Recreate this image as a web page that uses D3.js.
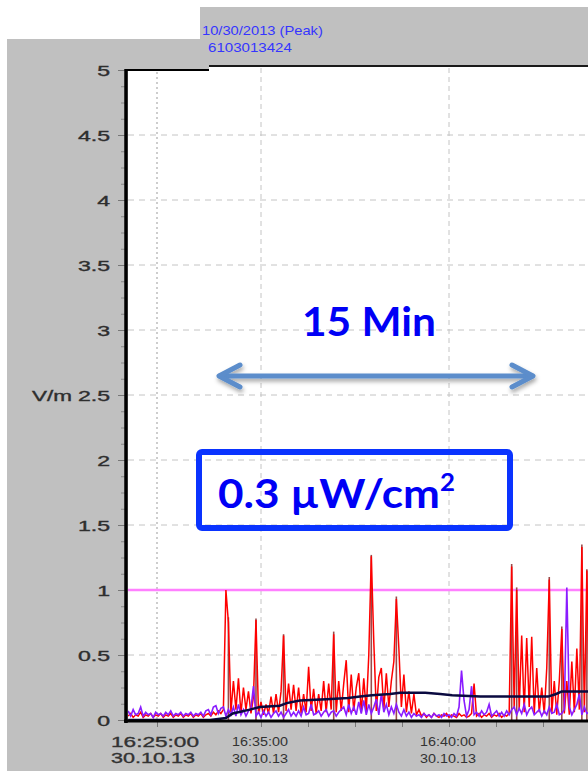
<!DOCTYPE html>
<html><head><meta charset="utf-8">
<script src="https://cdn.jsdelivr.net/npm/d3@7"></script>
<style>body{margin:0;background:#fff;overflow:hidden}svg{display:block}</style>
</head><body>
<svg id="c" width="588" height="771"></svg>
<script>
// ---------------- data ----------------
const headerLines = ["10/30/2013 (Peak)", "6103013424"];
const yTicks = [0, 0.5, 1, 1.5, 2, 2.5, 3, 3.5, 4, 4.5, 5];
const yUnit = "V/m";
const xTickTimes = ["16:35:00","16:36:15","16:37:30","16:38:45","16:40:00","16:41:15","16:42:30"];
const xLabelTimes = ["16:35:00","16:40:00"];
const leftTickTime = "16:25:00";
const dateLabel = "30.10.13";
const startTime = "16:31:28";
const stepSeconds = 4;
const limitValue = 1.0;
const spanLabel = "15 Min";
const boxLabel = "0.3 \u00b5W/cm";
const boxLabelSup = "2";

const redValues = [
 0.03,0.05,0.02,0.04,0.03,0.06,0.02,0.04,0.03,0.05,0.02,0.04,0.03,0.05,0.02,0.04,0.03,0.05,0.02,0.04,
 0.03,0.05,0.02,0.04,0.03,0.05,0.02,0.04,0.03,0.05,0.02,0.04,0.05,0.03,0.06,0.04,0.07,0.05,0.08,1.0,
 0.75,0.06,0.3,0.08,0.32,0.05,0.25,0.08,0.22,0.05,0.18,0.77,0.05,0.14,0.04,0.12,0.05,0.18,0.05,0.2,
 0.06,0.22,0.65,0.07,0.28,0.08,0.27,0.07,0.25,0.05,0.2,0.06,0.41,0.07,0.24,0.05,0.2,0.07,0.3,0.06,
 0.28,0.08,0.66,0.06,0.3,0.07,0.28,0.46,0.06,0.35,0.07,0.25,0.36,0.06,0.32,0.07,0.5,1.26,0.6,0.07,
 0.33,0.4,0.08,0.36,0.1,0.3,0.45,0.93,0.55,0.1,0.35,0.06,0.22,0.05,0.2,0.04,0.08,0.03,0.05,0.02,
 0.04,0.02,0.05,0.03,0.02,0.04,0.03,0.05,0.02,0.04,0.03,0.02,0.05,0.03,0.04,0.02,0.03,0.05,0.28,0.03,
 0.05,0.02,0.04,0.03,0.05,0.02,0.04,0.03,0.05,0.02,0.04,0.03,0.05,1.18,0.1,1.0,0.08,0.65,0.06,0.63,
 0.1,0.64,0.05,0.4,0.06,0.25,0.05,0.4,1.08,0.05,0.3,0.04,0.3,0.7,0.05,0.3,0.04,0.45,0.06,0.55,
 0.08,1.33,0.06,1.15,0.05
];
const purpleValues = [
 0.07,0.03,0.08,0.04,0.05,0.1,0.03,0.06,0.04,0.05,0.02,0.06,0.04,0.05,0.03,0.06,0.04,0.07,0.03,0.05,
 0.04,0.06,0.03,0.05,0.04,0.06,0.03,0.05,0.04,0.06,0.03,0.07,0.08,0.04,0.1,0.11,0.05,0.09,0.1,0.03,
 0.08,0.04,0.1,0.03,0.12,0.04,0.08,0.03,0.07,0.09,0.26,0.03,0.06,0.02,0.07,0.03,0.06,0.02,0.05,0.07,
 0.03,0.06,0.02,0.05,0.08,0.03,0.06,0.03,0.07,0.03,0.1,0.04,0.05,0.12,0.04,0.05,0.07,0.03,0.06,0.08,
 0.03,0.06,0.07,0.03,0.06,0.08,0.1,0.04,0.12,0.05,0.1,0.04,0.14,0.05,0.15,0.04,0.12,0.05,0.1,0.16,
 0.04,0.2,0.06,0.12,0.04,0.1,0.05,0.12,0.06,0.03,0.08,0.03,0.06,0.02,0.05,0.03,0.04,0.02,0.05,0.03,
 0.04,0.02,0.05,0.03,0.04,0.02,0.05,0.03,0.04,0.02,0.05,0.03,0.1,0.38,0.15,0.03,0.08,0.26,0.04,0.06,
 0.03,0.07,0.04,0.06,0.12,0.03,0.05,0.07,0.03,0.06,0.03,0.07,0.04,0.08,0.1,0.04,0.09,0.05,0.12,0.04,
 0.08,0.1,0.04,0.06,0.08,0.03,0.07,0.04,0.1,0.05,0.06,0.12,0.04,0.05,0.08,1.02,0.1,0.04,0.08,0.12,
 0.2,0.04,0.1,0.05,0.06
];
const peakIndex  = [40, 51, 62, 82, 97, 107, 153, 155, 168, 173, 181, 183];
const peakValues = [0.79, 0.78, 0.66, 0.68, 1.27, 0.95, 1.2, 1.02, 1.1, 0.72, 1.35, 1.16];
const avgTimes = ["16:31:28","16:33:39","16:34:04","16:34:15","16:34:42","16:34:58","16:35:30","16:35:41",
 "16:36:02","16:36:44","16:37:19","16:37:38","16:37:57","16:38:26","16:38:42","16:39:22","16:39:46",
 "16:40:05","16:40:50","16:42:38","16:42:51","16:43:00","16:43:45"];
const avgValues = [0,0,0.015,0.05,0.08,0.1,0.11,0.13,0.15,0.16,0.17,0.18,0.19,0.2,0.21,0.21,0.2,
 0.19,0.18,0.18,0.2,0.22,0.22];

// ---------------- drawing ----------------
const parseT = d3.timeParse("%H:%M:%S");
const svg = d3.select("#c");
const x = d3.scaleTime().domain([parseT("16:35:00"), parseT("16:40:00")]).range([261, 449]);
const xLeft = d3.scaleTime().domain([parseT("16:25:00"), parseT("16:35:00")]).range([157, 261]);
const y = d3.scaleLinear().domain([0, 5]).range([720, 70]);
const t0 = parseT(startTime);
const tAt = i => new Date(t0.getTime() + i * stepSeconds * 1000);
const GRAY = "#c0c0c0";
const FONT = "'Liberation Sans', Arial, sans-serif";

function fitWidth(sel, x0, target) {
  const w = sel.node().getBBox().width;
  sel.attr("transform", `translate(${x0},0) scale(${target / w},1) translate(${-x0},0)`);
}

const defs = svg.append("defs");
defs.append("clipPath").attr("id", "plotclip").append("rect")
  .attr("x", 128).attr("y", 67).attr("width", 460).attr("height", 653);
const sh = defs.append("filter").attr("id", "shadow").attr("x", "-10%").attr("y", "-50%").attr("width", "120%").attr("height", "200%");
sh.append("feDropShadow").attr("dx", 1).attr("dy", 3).attr("stdDeviation", 2).attr("flood-color", "#000").attr("flood-opacity", 0.35);

// backgrounds
svg.append("rect").attr("x", 200).attr("y", 7).attr("width", 388).attr("height", 60).attr("fill", GRAY);
svg.append("rect").attr("x", 7).attr("y", 39).attr("width", 202).attr("height", 732).attr("fill", GRAY);
svg.append("rect").attr("x", 7).attr("y", 722).attr("width", 581).attr("height", 49).attr("fill", GRAY);
svg.append("rect").attr("x", 128).attr("y", 70).attr("width", 81).attr("height", 651).attr("fill", "#fff");
svg.append("rect").attr("x", 209).attr("y", 67).attr("width", 379).attr("height", 654).attr("fill", "#fff");
svg.append("line").attr("x1", 126).attr("x2", 209).attr("y1", 70).attr("y2", 70).attr("stroke", "#000").attr("stroke-width", 2);
svg.append("line").attr("x1", 209).attr("x2", 588).attr("y1", 66).attr("y2", 66).attr("stroke", "#1a1a1a").attr("stroke-width", 2);

// header text
headerLines.forEach((s, k) => {
  const xs = [202, 208][k], ys = [35, 52][k], ws = [121, 84][k];
  const t = svg.append("text").attr("x", xs).attr("y", ys).attr("font-family", FONT)
    .attr("font-size", 13).attr("fill", "#3535ff").text(s);
  fitWidth(t, xs, ws);
});

// grid
const grid = svg.append("g");
grid.selectAll("line.h").data(yTicks.filter(v => v > 0 && v < 5)).join("line")
  .attr("x1", 128).attr("x2", 588).attr("y1", d => y(d)).attr("y2", d => y(d))
  .attr("stroke", "#c4c4c4").attr("stroke-width", 1).attr("stroke-dasharray", "6,5");
grid.append("line").attr("x1", xLeft(parseT(leftTickTime))).attr("x2", xLeft(parseT(leftTickTime)))
  .attr("y1", 72).attr("y2", 720).attr("stroke", "#bdbdbd").attr("stroke-width", 1.5).attr("stroke-dasharray", "2,3");
grid.selectAll("line.v").data(xLabelTimes).join("line")
  .attr("x1", d => x(parseT(d))).attr("x2", d => x(parseT(d)))
  .attr("y1", 68).attr("y2", 720).attr("stroke", "#c4c4c4").attr("stroke-width", 1).attr("stroke-dasharray", "5,4");

// y axis
const yAxis = svg.append("g").attr("transform", "translate(125,0)")
  .call(d3.axisLeft(y).tickValues(yTicks).tickSize(7).tickFormat(d => String(d)));
yAxis.select(".domain").remove();
yAxis.selectAll(".tick line").attr("stroke", "#777");
yAxis.selectAll(".tick text").each(function () {
  d3.select(this).attr("x", 0).attr("dy", "0.38em").attr("font-family", FONT).attr("font-size", 14)
    .attr("fill", "#2e2e2e").attr("stroke", "#2e2e2e").attr("stroke-width", 0.35).attr("text-anchor", "end")
    .attr("transform", "translate(-15,0) scale(1.65,1)");
});
const yMinor = svg.append("g").attr("transform", "translate(125,0)")
  .call(d3.axisLeft(y).tickValues(d3.range(0, 5.001, 0.125).filter(v => Math.abs(v * 2 - Math.round(v * 2)) > 1e-6)).tickSize(4).tickFormat(""));
yMinor.select(".domain").remove();
yMinor.selectAll(".tick line").attr("stroke", "#888");
const unit = svg.append("text").attr("x", 32).attr("y", 401).attr("font-family", FONT).attr("font-size", 14)
  .attr("fill", "#2e2e2e").attr("stroke", "#2e2e2e").attr("stroke-width", 0.35).text(yUnit);
fitWidth(unit, 32, 40);

// x axis ticks
const xAxis = svg.append("g").attr("transform", "translate(0,722)")
  .call(d3.axisBottom(x).tickValues(xTickTimes.map(parseT)).tickSize(5).tickFormat(""));
xAxis.select(".domain").remove();
xAxis.selectAll(".tick line").attr("stroke", "#777");
const xAxisL = svg.append("g").attr("transform", "translate(0,722)")
  .call(d3.axisBottom(xLeft).tickValues([parseT(leftTickTime)]).tickSize(5).tickFormat(""));
xAxisL.select(".domain").remove();
xAxisL.selectAll(".tick line").attr("stroke", "#777");

// x labels
xLabelTimes.forEach(s => {
  const cx = x(parseT(s)) - 1;
  const a = svg.append("text").attr("x", cx).attr("y", 746).attr("text-anchor", "middle")
    .attr("font-family", FONT).attr("font-size", 13).attr("fill", "#333").text(s);
  fitWidth(a, cx, 56);
  const b = svg.append("text").attr("x", cx).attr("y", 763).attr("text-anchor", "middle")
    .attr("font-family", FONT).attr("font-size", 13).attr("fill", "#333").text(dateLabel);
  fitWidth(b, cx, 56);
});
{
  const cx = xLeft(parseT(leftTickTime)) - 2;
  const a = svg.append("text").attr("x", cx).attr("y", 747).attr("text-anchor", "middle")
    .attr("font-family", FONT).attr("font-size", 15).attr("fill", "#333").attr("stroke", "#333").attr("stroke-width", 0.35).text(leftTickTime);
  fitWidth(a, cx, 88);
  const b = svg.append("text").attr("x", cx - 2).attr("y", 763).attr("text-anchor", "middle")
    .attr("font-family", FONT).attr("font-size", 15).attr("fill", "#333").attr("stroke", "#333").attr("stroke-width", 0.35).text(dateLabel);
  fitWidth(b, cx - 2, 84);
}

// series
const plot = svg.append("g").attr("clip-path", "url(#plotclip)");
plot.append("line").attr("x1", 128).attr("x2", 588).attr("y1", y(limitValue)).attr("y2", y(limitValue))
  .attr("stroke", "#ff80ff").attr("stroke-width", 2.5);
plot.selectAll("line.peak").data(peakIndex).join("line")
  .attr("x1", d => x(tAt(d))).attr("x2", d => x(tAt(d)))
  .attr("y1", y(0)).attr("y2", (d, k) => y(peakValues[k]))
  .attr("stroke", "#9a4a4a").attr("stroke-width", 1.6);
const lineIdx = d3.line().x((d, i) => x(tAt(i))).y(d => y(d));
plot.append("path").attr("d", lineIdx(redValues)).attr("fill", "none")
  .attr("stroke", "#ff0000").attr("stroke-width", 1.5);
plot.append("path").attr("d", lineIdx(purpleValues)).attr("fill", "none")
  .attr("stroke", "#8a1cff").attr("stroke-width", 1.6);
const lineAvg = d3.line().x(d => x(parseT(d[0]))).y(d => y(d[1]));
plot.append("path").attr("d", lineAvg(avgTimes.map((t, k) => [t, avgValues[k]]))).attr("fill", "none")
  .attr("stroke", "#0a0a40").attr("stroke-width", 2.5);

// axis lines
svg.append("line").attr("x1", 126).attr("x2", 126).attr("y1", 69).attr("y2", 723).attr("stroke", "#000").attr("stroke-width", 3.5);
svg.append("line").attr("x1", 124).attr("x2", 588).attr("y1", 721).attr("y2", 721).attr("stroke", "#000").attr("stroke-width", 3);

// annotations
const span = svg.append("text").attr("x", 302).attr("y", 336).attr("font-family", "Lato, 'Open Sans', sans-serif")
  .attr("font-weight", 700).attr("font-size", 40).attr("fill", "#0000f5").text(spanLabel);
fitWidth(span, 302, 134);

const arr = svg.append("g").attr("filter", "url(#shadow)").attr("stroke", "#5b8dcb")
  .attr("stroke-width", 5).attr("fill", "none").attr("stroke-linecap", "round").attr("stroke-linejoin", "round");
arr.append("line").attr("x1", 220).attr("x2", 532).attr("y1", 376).attr("y2", 376);
arr.append("polyline").attr("points", "240,365 219,376 240,387");
arr.append("polyline").attr("points", "512,365 533,376 512,387");

svg.append("rect").attr("x", 199).attr("y", 452).attr("width", 311).attr("height", 76).attr("rx", 3)
  .attr("fill", "none").attr("stroke", "#0a33ff").attr("stroke-width", 6);
const bt = svg.append("text").attr("x", 218).attr("y", 508).attr("font-family", "Lato, 'Open Sans', sans-serif")
  .attr("font-weight", 700).attr("font-size", 41).attr("fill", "#0000f5");
bt.append("tspan").text(boxLabel);
bt.append("tspan").attr("dy", -17).attr("font-size", 24).text(boxLabelSup);
fitWidth(bt, 218, 237);
</script>
</body></html>
